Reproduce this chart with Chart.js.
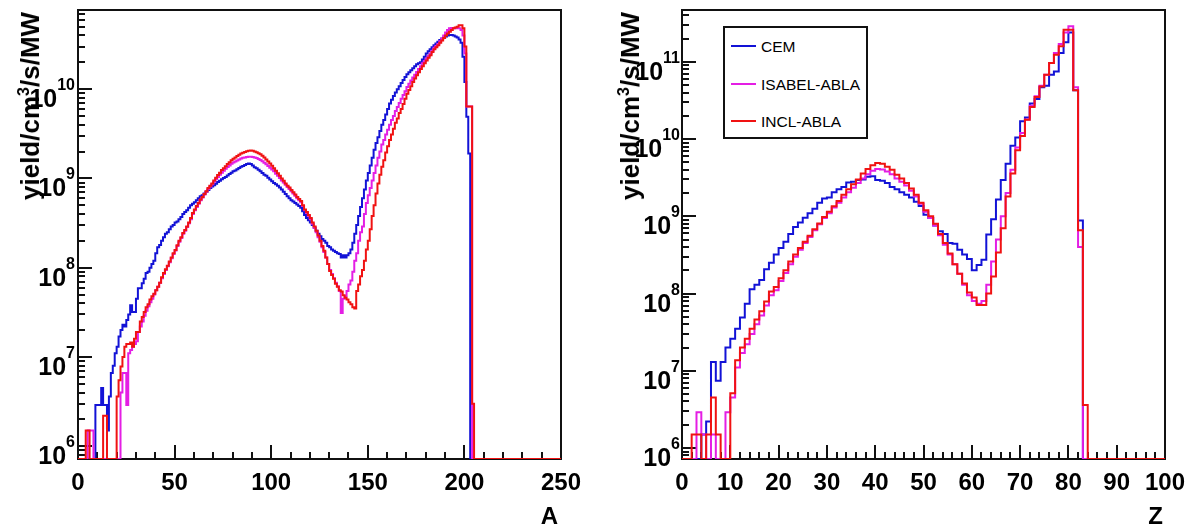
<!DOCTYPE html>
<html>
<head>
<meta charset="utf-8">
<script src="https://cdn.jsdelivr.net/npm/chart.js@4.4.1/dist/chart.umd.min.js"></script>
<style>
  html, body { margin: 0; padding: 0; background: #fff; }
  #wrap { position: relative; width: 1188px; height: 526px; overflow: hidden; background: #fff;
          font-family: "Liberation Sans", Arial, Helvetica, sans-serif; color: #000; }
  canvas { position: absolute; top: 0; }
  .ytitle { position: absolute; font-weight: bold; font-size: 26px; line-height: 1; white-space: nowrap;
            transform: translate(-50%, -50%) rotate(-90deg); }
  .ytitle sup { font-size: 62%; vertical-align: 0.6em; line-height: 0; }
  .xtitle { position: absolute; font-weight: bold; font-size: 24px; line-height: 1; white-space: nowrap; }
  #legend { position: absolute; left: 723px; top: 26px; width: 141px; height: 109px; border: 2px solid #111; background: #fff; }
  #legend .ln { position: absolute; left: 6px; width: 25px; height: 2px; }
  #legend .tx { position: absolute; left: 36px; font-size: 15.5px; line-height: 1; white-space: nowrap; }
</style>
</head>
<body>
<div id="wrap">
  <canvas id="cA" width="594" height="526" style="left:0px;width:594px;height:526px"></canvas>
  <canvas id="cZ" width="594" height="526" style="left:594px;width:594px;height:526px"></canvas>
  <div class="ytitle" style="left:30px;top:106px">yield/cm<sup>3</sup>/s/MW</div>
  <div class="ytitle" style="left:630px;top:106px">yield/cm<sup>3</sup>/s/MW</div>
  <div class="xtitle" style="right:630px;top:504px">A</div>
  <div class="xtitle" style="right:25px;top:504px">Z</div>
  <div id="legend"></div>
</div>
<script>
// ---------------- data ----------------
const SERIES = ['CEM', 'ISABEL-ABLA', 'INCL-ABLA'];
const A_TICKS = [0, 50, 100, 150, 200, 250];
const Z_TICKS = [0, 10, 20, 30, 40, 50, 60, 70, 80, 90, 100];
const Y_TICKS_A = [1e6, 1e7, 1e8, 1e9, 1e10];
const Y_TICKS_Z = [1e6, 1e7, 1e8, 1e9, 1e10, 1e11];

// yield per mass-number bin A = 0..249
const CEM_A = [
 0,0,0,0,0,0,0,0,0,2.9e6, 2.9e6,2.9e6,4.5e6,2.9e6,2.9e6,1.5e6,3.6e6,6.6e6,8e6,1.1e7,
 1.3e7,1.7e7,2.0e7,2.3e7,2.2e7,2.6e7,3.0e7,3.8e7,3.2e7,3.2e7, 4.5e7,5.9e7,5.9e7,6.7e7,7.5e7,8.7e7,9.0e7,1.0e8,1.1e8,1.2e8,
 1.45e8,1.7e8,1.8e8,2.0e8,2.2e8,2.4e8,2.5e8,2.7e8,2.9e8,3.0e8, 3.2e8,3.3e8,3.5e8,3.7e8,4.0e8,4.2e8,4.4e8,4.7e8,5.0e8,5.2e8,
 5.4e8,5.7e8,6.0e8,6.3e8,6.5e8,6.8e8,7.1e8,7.4e8,7.8e8,8.1e8, 8.4e8,8.7e8,9.1e8,9.4e8,9.8e8,1.01e9,1.04e9,1.08e9,1.12e9,1.16e9,
 1.2e9,1.23e9,1.27e9,1.31e9,1.35e9,1.38e9,1.41e9,1.45e9,1.47e9,1.45e9, 1.4e9,1.33e9,1.3e9,1.25e9,1.2e9,1.15e9,1.1e9,1.07e9,1.02e9,9.7e8,
 9.3e8,8.9e8,8.6e8,8.3e8,7.9e8,7.5e8,7.1e8,6.7e8,6.3e8,6.0e8, 5.7e8,5.5e8,5.3e8,5.1e8,4.9e8,4.7e8,4.3e8,3.9e8,3.6e8,3.4e8,
 3.2e8,3.0e8,2.8e8,2.6e8,2.4e8,2.25e8,2.1e8,2.0e8,1.9e8,1.75e8, 1.7e8,1.6e8,1.55e8,1.5e8,1.45e8,1.42e8,1.3e8,1.38e8,1.3e8,1.38e8,
 1.45e8,1.6e8,1.9e8,2.4e8,3.0e8,3.8e8,4.8e8,6.0e8,7.5e8,9.5e8, 1.15e9,1.4e9,1.7e9,2.1e9,2.5e9,2.9e9,3.4e9,4.0e9,4.5e9,5.2e9,
 6.0e9,6.9e9,7.6e9,8.4e9,9.2e9,1.0e10,1.08e10,1.17e10,1.27e10,1.37e10, 1.47e10,1.55e10,1.63e10,1.71e10,1.8e10,1.9e10,1.95e10,2.0e10,2.15e10,2.3e10,
 2.5e10,2.65e10,2.8e10,2.95e10,3.1e10,3.25e10,3.4e10,3.55e10,3.7e10,3.8e10, 3.9e10,4.0e10,4.05e10,4.05e10,4.0e10,3.9e10,3.8e10,3.6e10,3.3e10,2.3e10,
 1.2e10,4.9e9,1.9e9,0,0,0,0,0,0,0, 0,0,0,0,0,0,0,0,0,0,
 0,0,0,0,0,0,0,0,0,0, 0,0,0,0,0,0,0,0,0,0,
 0,0,0,0,0,0,0,0,0,0, 0,0,0,0,0,0,0,0,0,0
];
const ISABEL_A = [
 0,0,0,0,0,1.5e6,1.5e6,1.5e6,0,0, 0,0,0,0,0,0,0,0,0,0,
 0,0,4.0e6,6.6e6,6.6e6,2.9e6,1.1e7,1.2e7,1.3e7,1.4e7, 1.5e7,1.9e7,2.2e7,2.5e7,2.9e7,3.3e7,3.7e7,4.1e7,4.5e7,5.0e7,
 5.6e7,6.1e7,6.8e7,7.6e7,8.5e7,9.4e7,1.04e8,1.15e8,1.28e8,1.42e8, 1.56e8,1.75e8,1.95e8,2.15e8,2.4e8,2.6e8,2.85e8,3.15e8,3.5e8,4.0e8,
 4.4e8,4.8e8,5.2e8,5.7e8,6.1e8,6.6e8,7.1e8,7.6e8,8.1e8,8.6e8, 9.2e8,9.8e8,1.04e9,1.1e9,1.16e9,1.22e9,1.28e9,1.34e9,1.4e9,1.46e9,
 1.51e9,1.55e9,1.59e9,1.63e9,1.67e9,1.7e9,1.72e9,1.74e9,1.75e9,1.75e9, 1.74e9,1.72e9,1.69e9,1.65e9,1.61e9,1.56e9,1.5e9,1.44e9,1.38e9,1.32e9,
 1.26e9,1.2e9,1.13e9,1.07e9,1.01e9,9.5e8,9.0e8,8.5e8,8.0e8,7.6e8, 7.2e8,6.8e8,6.4e8,6.0e8,5.7e8,5.4e8,4.9e8,4.4e8,4.1e8,3.8e8,
 3.5e8,3.1e8,2.8e8,2.5e8,2.2e8,1.95e8,1.7e8,1.5e8,1.3e8,1.1e8, 9.4e7,8.5e7,7.6e7,6.8e7,6.2e7,5.5e7,3.1e7,4.5e7,4.8e7,5.5e7,
 6.5e7,7.2e7,9.0e7,1.2e8,1.45e8,2.0e8,2.5e8,2.9e8,4.0e8,5.3e8, 6.5e8,7.8e8,9.5e8,1.15e9,1.4e9,1.7e9,2.0e9,2.4e9,2.7e9,3.1e9,
 3.5e9,4.0e9,4.5e9,5.0e9,5.7e9,6.3e9,7.0e9,7.8e9,8.6e9,9.5e9, 1.06e10,1.15e10,1.25e10,1.35e10,1.45e10,1.56e10,1.68e10,1.8e10,1.95e10,2.05e10,
 2.2e10,2.35e10,2.5e10,2.7e10,2.9e10,3.05e10,3.2e10,3.45e10,3.7e10,4.0e10, 4.3e10,4.6e10,4.8e10,4.85e10,4.85e10,4.8e10,4.8e10,4.8e10,4.6e10,4.0e10,
 2.5e10,6.4e9,6.4e9,6.4e9,0,0,0,0,0,0, 0,0,0,0,0,0,0,0,0,0,
 0,0,0,0,0,0,0,0,0,0, 0,0,0,0,0,0,0,0,0,0,
 0,0,0,0,0,0,0,0,0,0, 0,0,0,0,0,0,0,0,0,0
];
const INCL_A = [
 0,0,0,0,1.5e6,1.5e6,0,0,0,0, 0,0,0,2.2e6,2.2e6,0,0,0,0,0,
 3.6e6,5.5e6,7.8e6,1.0e7,1.3e7,1.4e7,1.4e7,1.45e7,1.3e7,1.6e7, 1.9e7,1.9e7,2.5e7,2.8e7,3.2e7,3.6e7,3.9e7,4.4e7,4.8e7,5.1e7,
 5.6e7,6.1e7,6.8e7,7.8e7,8.7e7,9.6e7,1.05e8,1.17e8,1.3e8,1.45e8, 1.58e8,1.78e8,2.0e8,2.2e8,2.45e8,2.65e8,2.9e8,3.2e8,3.6e8,4.1e8,
 4.5e8,4.9e8,5.3e8,5.8e8,6.2e8,6.7e8,7.2e8,7.8e8,8.3e8,8.8e8, 9.5e8,1.02e9,1.09e9,1.16e9,1.24e9,1.3e9,1.37e9,1.45e9,1.52e9,1.6e9,
 1.66e9,1.72e9,1.78e9,1.84e9,1.9e9,1.94e9,1.98e9,2.02e9,2.04e9,2.05e9, 2.04e9,2.0e9,1.97e9,1.92e9,1.87e9,1.8e9,1.72e9,1.63e9,1.55e9,1.47e9,
 1.39e9,1.3e9,1.22e9,1.14e9,1.07e9,1.0e9,9.4e8,8.8e8,8.3e8,7.9e8, 7.4e8,7.0e8,6.6e8,6.2e8,5.9e8,5.6e8,5.0e8,4.5e8,4.2e8,3.9e8,
 3.6e8,3.2e8,2.9e8,2.6e8,2.3e8,2.0e8,1.75e8,1.55e8,1.3e8,1.1e8, 9.2e7,8.3e7,7.5e7,6.6e7,6.1e7,5.6e7,5.4e7,4.9e7,4.6e7,4.4e7,
 4.1e7,3.9e7,3.6e7,3.5e7,5.5e7,6.5e7,8.0e7,9.4e7,1.2e8,1.6e8, 2.0e8,2.7e8,3.8e8,5.0e8,6.8e8,8.8e8,1.1e9,1.35e9,1.6e9,1.95e9,
 2.3e9,2.7e9,3.1e9,3.6e9,4.2e9,4.7e9,5.4e9,6.0e9,6.8e9,7.8e9, 8.9e9,9.8e9,1.08e10,1.2e10,1.32e10,1.43e10,1.55e10,1.68e10,1.8e10,1.95e10,
 2.1e10,2.25e10,2.4e10,2.6e10,2.8e10,2.95e10,3.1e10,3.3e10,3.5e10,3.75e10, 4.0e10,4.2e10,4.4e10,4.6e10,4.8e10,4.9e10,5.0e10,5.2e10,5.2e10,4.8e10,
 3.0e10,6.4e9,6.4e9,6.4e9,3.0e6,0,0,0,0,0, 0,0,0,0,0,0,0,0,0,0,
 0,0,0,0,0,0,0,0,0,0, 0,0,0,0,0,0,0,0,0,0,
 0,0,0,0,0,0,0,0,0,0, 0,0,0,0,0,0,0,0,0,0
];

// yield per charge-number bin Z = 0..99
const CEM_Z = [
 0,0,0,0,1.5e6,2.2e6,1.3e7,7.4e6,1.3e7,2.0e7,
 2.6e7,3.5e7,4.9e7,7.4e7,1.14e8,1.3e8,1.5e8,2.06e8,2.5e8,3.2e8,
 3.9e8,4.7e8,5.9e8,7.3e8,8.3e8,9.6e8,1.1e9,1.25e9,1.5e9,1.7e9,
 1.75e9,2.05e9,2.25e9,2.4e9,2.75e9,2.8e9,2.96e9,3.0e9,3.25e9,3.3e9,
 2.96e9,2.9e9,2.7e9,2.4e9,2.25e9,2.05e9,1.9e9,1.75e9,1.55e9,1.36e9,
 1.05e9,9.5e8,7.6e8,6.4e8,5.9e8,4.5e8,4.4e8,3.7e8,3.2e8,2.8e8,
 2.0e8,2.35e8,2.75e8,5.8e8,9.2e8,1.65e9,2.95e9,4.8e9,8.2e9,1.05e10,
 1.7e10,1.9e10,2.9e10,3.3e10,4.7e10,4.9e10,6.8e10,7.5e10,1.3e11,1.8e11,
 2.4e11,4.3e10,8.8e8,0,0,0,0,0,0,0,
 0,0,0,0,0,0,0,0,0,0
];
const ISABEL_Z = [
 0,0,0,2.9e6,1.5e6,0,1.5e6,0,0,2.9e6,
 4.5e6,1.1e7,1.7e7,2.2e7,3.0e7,4.0e7,5.2e7,7.0e7,9.5e7,1.1e8,
 1.45e8,1.85e8,2.4e8,3.0e8,3.7e8,4.5e8,5.4e8,6.6e8,7.9e8,9.5e8,
 1.1e9,1.3e9,1.5e9,1.75e9,2.05e9,2.35e9,2.7e9,3.1e9,3.5e9,3.9e9,
 4.1e9,4.05e9,3.8e9,3.5e9,3.1e9,2.8e9,2.5e9,2.15e9,1.8e9,1.45e9,
 1.15e9,9.5e8,7.6e8,5.7e8,4.3e8,3.2e8,2.4e8,1.8e8,1.3e8,9.5e7,
 8.0e7,7.4e7,8.0e7,1.3e8,2.6e8,5.0e8,1.0e9,2.0e9,4.0e9,7.8e9,
 1.2e10,1.8e10,2.7e10,3.6e10,4.9e10,6.8e10,9.7e10,1.3e11,1.7e11,2.4e11,
 2.9e11,4.7e10,4.0e8,0,0,0,0,0,0,0,
 0,0,0,0,0,0,0,0,0,0
];
const INCL_Z = [
 0,0,1.5e6,1.5e6,0,1.5e6,4.5e6,1.5e6,0,0,
 5.1e6,1.37e7,2.0e7,2.6e7,3.5e7,4.6e7,5.9e7,7.9e7,1.06e8,1.22e8,
 1.58e8,2.0e8,2.6e8,3.2e8,3.9e8,4.7e8,5.6e8,6.8e8,8.1e8,9.8e8,
 1.15e9,1.35e9,1.58e9,1.9e9,2.25e9,2.6e9,3.0e9,3.6e9,4.1e9,4.6e9,
 4.9e9,4.8e9,4.4e9,4.0e9,3.45e9,3.1e9,2.7e9,2.3e9,1.9e9,1.5e9,
 1.2e9,1.0e9,8.0e8,5.9e8,4.5e8,3.3e8,2.4e8,1.8e8,1.35e8,1.03e8,
 8.9e7,7.1e7,7.1e7,1.0e8,1.66e8,3.4e8,7.0e8,1.8e9,3.6e9,7.2e9,
 1.1e10,1.78e10,2.6e10,3.5e10,4.8e10,6.8e10,9.7e10,1.24e11,1.6e11,2.6e11,
 2.6e11,4.3e10,6.6e8,3.6e6,0,0,0,0,0,0,
 0,0,0,0,0,0,0,0,0,0
];

// ---------------- styling ----------------
const COLORS = ['#1212d6', '#e41ee4', '#f01212'];
const FONT = '"Liberation Sans", Arial, Helvetica, sans-serif';
const Y_MIN = 7.2e5;

Chart.defaults.font.family = FONT;
Chart.defaults.color = '#000';

function histPoints(vals, floor) {
  const pts = vals.map((v, i) => ({ x: i, y: v > 0 ? v : floor }));
  pts.push({ x: vals.length, y: pts[pts.length - 1].y });
  return pts;
}

const rootAxes = {
  id: 'rootAxes',
  beforeDatasetsDraw(chart, args, o) {
    const { ctx, chartArea: a, scales: { x, y } } = chart;
    ctx.save();
    ctx.strokeStyle = '#111';
    ctx.lineWidth = 2;
    ctx.strokeRect(a.left, a.top, a.right - a.left, a.bottom - a.top);
    ctx.beginPath();
    for (let v = x.min; v <= x.max + 1e-9; v += o.xMinor) {
      const px = Math.round(x.getPixelForValue(v));
      const major = Math.abs(v / o.xMajor - Math.round(v / o.xMajor)) < 1e-6;
      ctx.moveTo(px, a.bottom);
      ctx.lineTo(px, a.bottom - (major ? 14 : 7));
    }
    const d0 = Math.floor(Math.log10(y.min)), d1 = Math.ceil(Math.log10(y.max));
    for (let d = d0; d <= d1; d++) {
      for (let m = 1; m <= 9; m++) {
        const v = m * Math.pow(10, d);
        if (v < y.min || v > y.max) continue;
        const py = Math.round(y.getPixelForValue(v));
        ctx.moveTo(a.left, py);
        ctx.lineTo(a.left + (m === 1 ? 14 : 7), py);
      }
    }
    ctx.stroke();
    // decade labels 10^n
    ctx.fillStyle = '#000';
    ctx.textBaseline = 'alphabetic';
    ctx.textAlign = 'left';
    for (const v of o.yTicks) {
      const py = y.getPixelForValue(v);
      const exp = String(Math.round(Math.log10(v)));
      ctx.font = 'bold 16px ' + FONT;
      const we = ctx.measureText(exp).width;
      ctx.font = 'bold 25px ' + FONT;
      const wb = ctx.measureText('10').width;
      const xr = a.left - o.labelGap;
      ctx.fillText('10', xr - we - wb, py + 18);
      ctx.font = 'bold 16px ' + FONT;
      ctx.fillText(exp, xr - we, py + 1);
    }
    ctx.restore();
  }
};

function makeChart(id, vals, xMax, xTicks, xMajor, xMinor, yMax, yTicks, yWidth, padRight, labelGap) {
  const datasets = vals.map((v, i) => ({
    label: SERIES[i],
    data: histPoints(v, Y_MIN),
    borderColor: COLORS[i],
    borderWidth: 2,
    pointRadius: 0,
    stepped: 'before',
    fill: false,
    tension: 0,
    borderJoinStyle: 'miter',
    order: 3 - i
  }));
  return new Chart(document.getElementById(id), {
    type: 'line',
    data: { datasets },
    plugins: [rootAxes],
    options: {
      responsive: false,
      animation: false,
      events: [],
      layout: { autoPadding: false, padding: { left: 0, right: padRight, top: 10, bottom: 0 } },
      plugins: {
        legend: { display: false },
        tooltip: { enabled: false },
        rootAxes: { xMajor, xMinor, yTicks, labelGap }
      },
      scales: {
        x: {
          type: 'linear', min: 0, max: xMax,
          grid: { display: false }, border: { display: false },
          afterBuildTicks: s => { s.ticks = xTicks.map(v => ({ value: v })); },
          afterFit: s => { s.height = 67; },
          ticks: { font: { size: 24, weight: 'bold' }, color: '#000', padding: 2, maxRotation: 0, autoSkip: false }
        },
        y: {
          type: 'logarithmic', min: Y_MIN, max: yMax,
          grid: { display: false }, border: { display: false },
          afterFit: s => { s.width = yWidth; },
          ticks: { display: false }
        }
      }
    }
  });
}

makeChart('cA', [CEM_A, ISABEL_A, INCL_A], 250, A_TICKS, 50, 10, 7.7e10, Y_TICKS_A, 78, 33, 3);
makeChart('cZ', [CEM_Z, ISABEL_Z, INCL_Z], 100, Z_TICKS, 10, 2, 4.7e11, Y_TICKS_Z, 88, 23, 2);

// legend
const lg = document.getElementById('legend');
const ys = [17, 55, 92];
SERIES.forEach((name, i) => {
  const ln = document.createElement('div');
  ln.className = 'ln';
  ln.style.top = ys[i] + 'px';
  ln.style.background = COLORS[i];
  lg.appendChild(ln);
  const tx = document.createElement('div');
  tx.className = 'tx';
  tx.style.top = (ys[i] - 6) + 'px';
  tx.textContent = name;
  lg.appendChild(tx);
});
</script>
</body>
</html>
